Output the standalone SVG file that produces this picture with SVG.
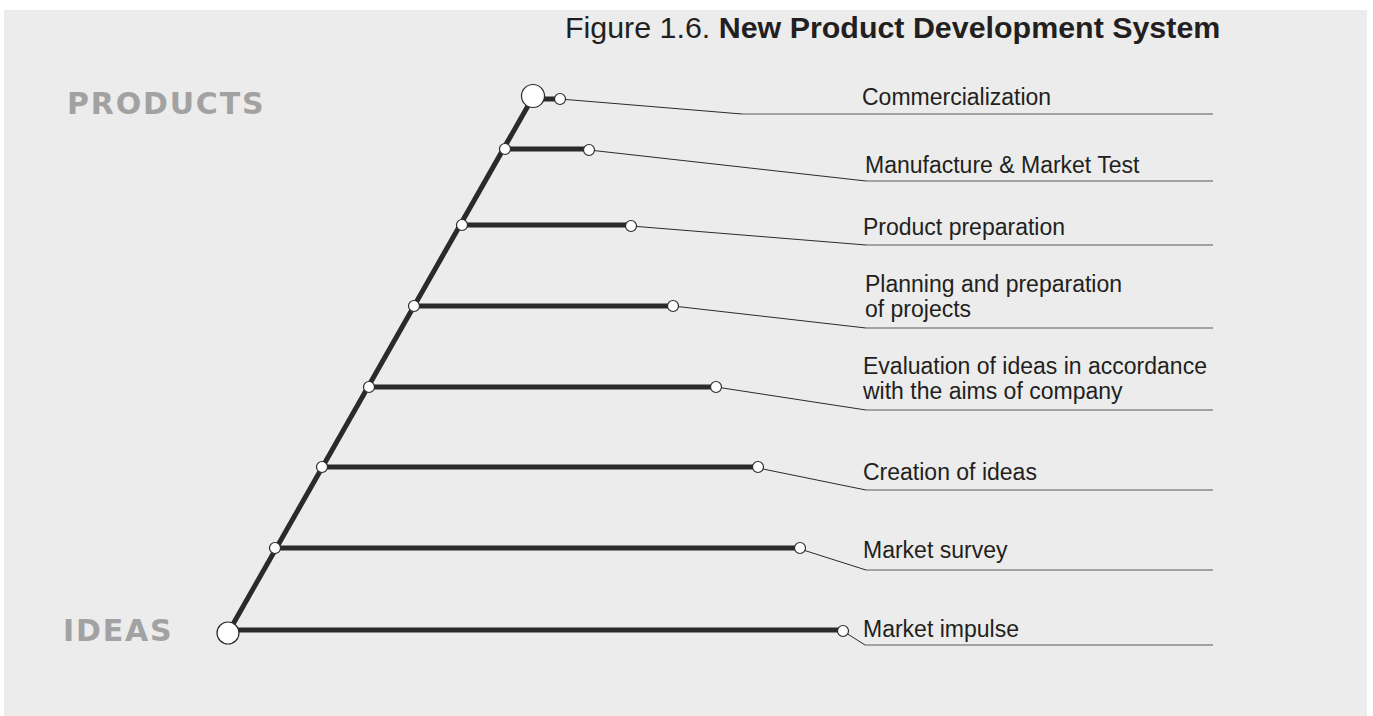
<svg xmlns="http://www.w3.org/2000/svg" width="1373" height="716" viewBox="0 0 1373 716">
<style>
.bar{stroke:#2b2a29;stroke-width:5;fill:none;stroke-linecap:butt}
.lead{stroke:#2b2a29;stroke-width:1;fill:none}
.under{stroke:#8a8a8a;stroke-width:1.4;fill:none}
.dot{fill:#ffffff;stroke:#2b2a29;stroke-width:1.2}
.lbl{font-family:"Liberation Sans",Arial,sans-serif;font-size:23px;fill:#231f20}
.big{font-family:"DejaVu Sans",Verdana,sans-serif;font-weight:bold;font-size:30px;fill:#a2a2a2;letter-spacing:1.8px}
</style>
<rect x="0" y="0" width="1373" height="716" fill="#ffffff"/>
<rect x="4" y="10" width="1363" height="706" fill="#ebeceb"/>
<text x="565" y="38" font-family="'Liberation Sans',Arial,sans-serif" font-size="30.4" fill="#231f20">Figure 1.6. <tspan font-weight="bold">New Product Development System</tspan></text>
<text class="big" x="67" y="114">PRODUCTS</text>
<text class="big" x="63" y="641">IDEAS</text>
<g id="connectors">
<line class="bar" x1="228" y1="633" x2="533" y2="97"/>
<line class="bar" x1="533" y1="99" x2="560" y2="99"/>
<line class="bar" x1="505" y1="149" x2="589" y2="149"/>
<line class="bar" x1="462" y1="225" x2="631" y2="225"/>
<line class="bar" x1="414" y1="306" x2="673" y2="306"/>
<line class="bar" x1="369" y1="387" x2="716" y2="387"/>
<line class="bar" x1="322" y1="467" x2="758" y2="467"/>
<line class="bar" x1="275" y1="548" x2="800" y2="548"/>
<line class="bar" x1="228" y1="630" x2="843" y2="630"/>
<polyline class="lead" points="560,99 742,114"/>
<polyline class="lead" points="589,150 866,181"/>
<polyline class="lead" points="631,226 866,245"/>
<polyline class="lead" points="673,306 866,328"/>
<polyline class="lead" points="716,387 866,410"/>
<polyline class="lead" points="758,468 866,490"/>
<polyline class="lead" points="800,549 866,570"/>
<polyline class="lead" points="843,631 865,645"/>
<line class="under" x1="742" y1="114" x2="1213" y2="114"/>
<line class="under" x1="866" y1="181" x2="1213" y2="181"/>
<line class="under" x1="866" y1="245" x2="1213" y2="245"/>
<line class="under" x1="866" y1="328" x2="1213" y2="328"/>
<line class="under" x1="866" y1="410" x2="1213" y2="410"/>
<line class="under" x1="866" y1="490" x2="1213" y2="490"/>
<line class="under" x1="866" y1="570" x2="1213" y2="570"/>
<line class="under" x1="865" y1="645" x2="1213" y2="645"/>
</g>
<g id="n-ideas"><circle class="dot" cx="228" cy="633" r="11"/></g>
<g id="n-products"><circle class="dot" cx="533" cy="96" r="11.5"/></g>
<g id="n-commercialization">
<circle class="dot" cx="560" cy="99" r="5.5"/>
<text class="lbl" x="862" y="105">Commercialization</text>
</g>
<g id="n-manufacture">
<circle class="dot" cx="505" cy="149" r="5.5"/>
<circle class="dot" cx="589" cy="150" r="5.5"/>
<text class="lbl" x="865" y="173">Manufacture &amp; Market Test</text>
</g>
<g id="n-product-prep">
<circle class="dot" cx="462" cy="225" r="5.5"/>
<circle class="dot" cx="631" cy="226" r="5.5"/>
<text class="lbl" x="863" y="235">Product preparation</text>
</g>
<g id="n-planning">
<circle class="dot" cx="414" cy="306" r="5.5"/>
<circle class="dot" cx="673" cy="306" r="5.5"/>
<text class="lbl" x="865" y="292">Planning and preparation</text>
<text class="lbl" x="865" y="317">of projects</text>
</g>
<g id="n-evaluation">
<circle class="dot" cx="369" cy="387" r="5.5"/>
<circle class="dot" cx="716" cy="387" r="5.5"/>
<text class="lbl" x="863" y="374">Evaluation of ideas in accordance</text>
<text class="lbl" x="863" y="399">with the aims of company</text>
</g>
<g id="n-creation">
<circle class="dot" cx="322" cy="467" r="5.5"/>
<circle class="dot" cx="758" cy="467" r="5.5"/>
<text class="lbl" x="863" y="480">Creation of ideas</text>
</g>
<g id="n-survey">
<circle class="dot" cx="275" cy="548" r="5.5"/>
<circle class="dot" cx="800" cy="548" r="5.5"/>
<text class="lbl" x="863" y="558">Market survey</text>
</g>
<g id="n-impulse">
<circle class="dot" cx="843" cy="631" r="5.5"/>
<text class="lbl" x="863" y="637">Market impulse</text>
</g>
</svg>
